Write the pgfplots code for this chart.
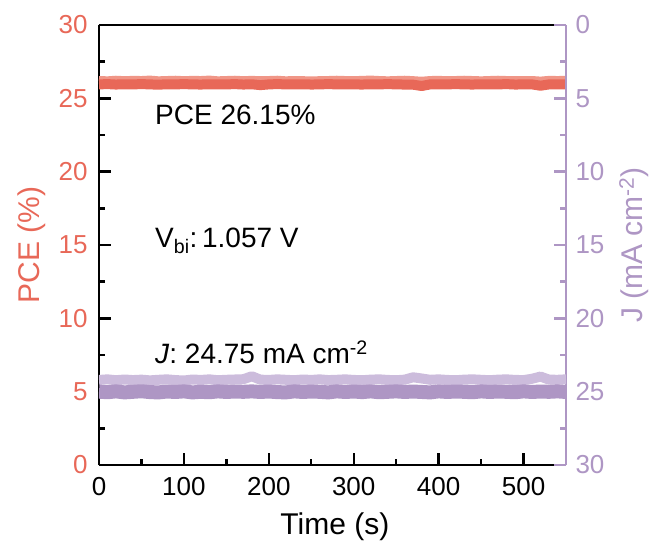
\documentclass[border=0pt]{standalone}
\usepackage{pgfplots}
\pgfplotsset{compat=1.18}
\usepackage{fontspec}
\setmainfont{Liberation Sans}
\definecolor{pcered}{RGB}{232,104,88}
\definecolor{pcelight}{RGB}{240,150,135}
\definecolor{jpurple}{RGB}{174,150,196}
\definecolor{jlight}{RGB}{204,188,220}

\pgfplotsset{
 common/.style={scale only axis, width=467pt, height=440pt,
   xmin=0, xmax=550, ymin=0, ymax=30,
   tick align=inside, major tick length=12pt, minor tick length=6pt,
   every tick/.style={line width=2.4pt},
   /pgf/number format/assume math mode=true,
   tick label style={font=\fontsize{26}{30}\selectfont},
   axis line style={line width=2.4pt},
   ytick={0,5,...,30}, minor y tick num=1,
 }
}

\pgfplotstableread{
x pl pd
0 26.35 25.95
10 26.33 25.97
20 26.37 25.94
30 26.34 25.96
40 26.36 25.95
50 26.35 25.97
60 26.38 25.95
70 26.33 25.93
80 26.35 25.96
90 26.37 25.95
100 26.34 25.97
110 26.36 25.95
120 26.35 25.94
130 26.38 25.96
140 26.33 25.95
150 26.35 25.95
160 26.37 25.97
170 26.34 25.94
180 26.36 25.96
190 26.34 25.90
200 26.35 25.95
210 26.37 25.97
220 26.33 25.95
230 26.35 25.95
240 26.34 25.96
250 26.32 25.94
260 26.34 25.95
270 26.35 25.97
280 26.37 25.95
290 26.35 25.96
300 26.34 25.95
310 26.36 25.94
320 26.38 25.96
330 26.35 25.95
340 26.33 25.97
350 26.35 25.95
360 26.37 25.94
370 26.34 25.93
380 26.30 25.84
390 26.35 25.95
400 26.36 25.96
410 26.34 25.95
420 26.35 25.97
430 26.37 25.95
440 26.35 25.94
450 26.33 25.96
460 26.35 25.95
470 26.37 25.95
480 26.35 25.97
490 26.34 25.94
500 26.35 25.95
510 26.35 25.95
520 26.31 25.86
530 26.36 25.95
540 26.35 25.96
550 26.36 25.95
}\pcedata

\pgfplotstableread{
x jl jd
0 24.20 25.00
10 24.16 25.04
20 24.22 24.98
30 24.17 25.05
40 24.21 25.01
50 24.18 24.97
60 24.23 25.03
70 24.19 25.05
80 24.16 24.99
90 24.21 25.02
100 24.24 24.98
110 24.17 25.05
120 24.20 25.01
130 24.16 25.04
140 24.22 24.98
150 24.19 25.02
160 24.17 24.99
170 24.15 25.01
180 23.95 24.98
190 24.18 25.02
200 24.20 24.99
210 24.16 25.03
220 24.19 25.05
230 24.22 24.98
240 24.17 25.02
250 24.20 24.99
260 24.16 25.01
270 24.21 25.05
280 24.19 24.98
290 24.16 25.02
300 24.20 24.99
310 24.22 25.03
320 24.18 24.98
330 24.16 25.04
340 24.20 25.01
350 24.22 24.98
360 24.18 25.02
370 24.02 24.99
380 24.10 25.02
390 24.19 25.05
400 24.16 24.98
410 24.20 25.02
420 24.22 24.99
430 24.18 25.01
440 24.16 25.04
450 24.19 24.98
460 24.22 25.02
470 24.18 24.99
480 24.16 25.01
490 24.20 25.04
500 24.21 24.98
510 24.12 25.02
520 23.97 24.99
530 24.18 25.01
540 24.19 24.98
550 24.16 25.02
}\jdata

\begin{document}
\begin{tikzpicture}
\begin{axis}[common, name=ax,
  axis y line*=left,
  xtick={0,100,...,500}, minor x tick num=1, xtick pos=lower,
  yticklabel style={color=pcered, xshift=-8pt},
  xticklabel style={yshift=-9pt},
  ylabel={PCE (\%)},
  every axis y label/.style={at={(axis description cs:-0.145,0.5)}, rotate=90, anchor=center, color=pcered, font=\fontsize{30}{34}\selectfont},
  xlabel={Time (s)},
  every axis x label/.style={at={(axis description cs:0.505,-0.141)}, anchor=center, font=\fontsize{30}{34}\selectfont},
  ]
\addplot[pcelight, line width=5pt, line join=round] table[x=x, y=pl] {\pcedata};
\addplot[pcered, line width=10pt, line join=round] table[x=x, y=pd] {\pcedata};
\node[anchor=west, font=\fontsize{28}{32}\selectfont, inner sep=0pt] at (axis cs:66,23.9) {PCE 26.15\%};
\node[anchor=west, font=\fontsize{28}{32}\selectfont, inner sep=0pt] at (axis cs:66,15.3) {V\textsubscript{bi}:\,1.057 V};
\node[anchor=west, font=\fontsize{28}{32}\selectfont, inner sep=0pt] at (axis cs:66,7.7) {\textit{J}: 24.75 mA cm\textsuperscript{-2}};
\end{axis}
\begin{axis}[common,
  axis y line*=right, axis x line=none,
  y dir=reverse,
  y axis line style={jpurple},
  ytick style={jpurple},
  yticklabel style={color=jpurple, xshift=6pt},
  ylabel={J (mA cm\textsuperscript{-2})},
  every axis y label/.style={at={(axis description cs:1.146,0.5)}, rotate=90, anchor=center, color=jpurple, font=\fontsize{30}{34}\selectfont},
  ]
\addplot[jlight, line width=10pt, line join=round] table[x=x, y=jl] {\jdata};
\addplot[jpurple, line width=14pt, line join=round] table[x=x, y=jd] {\jdata};
\end{axis}
\pgfresetboundingbox
\path[use as bounding box] ([shift={(-99pt,-87pt)}]ax.south west) rectangle ([shift={(91pt,25pt)}]ax.north east);
\end{tikzpicture}
\end{document}
